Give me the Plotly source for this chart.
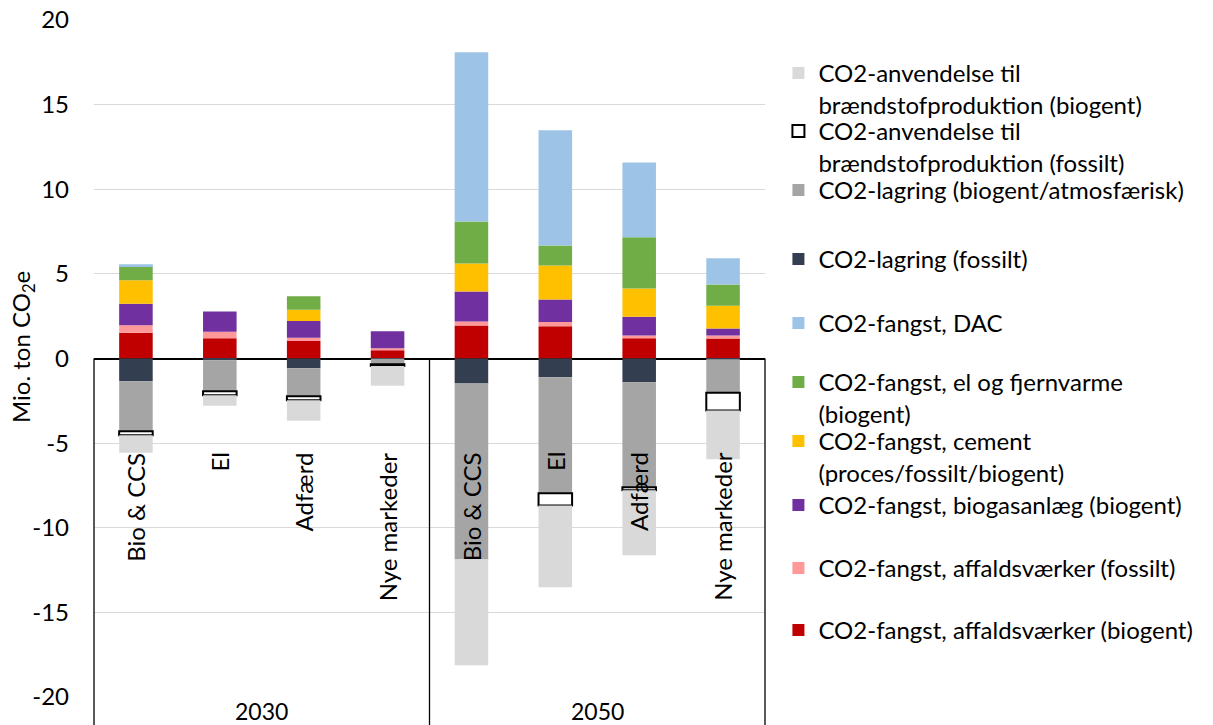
import plotly.graph_objects as go

# Categories: scenario within each year
years = ["2030", "2030", "2030", "2030", "2050", "2050", "2050", "2050"]
scenarios = ["Bio & CCS", "El", "Adfærd", "Nye markeder",
             "Bio & CCS", "El", "Adfærd", "Nye markeder"]

# Captured CO2 (positive) and its destination (negative), Mio. ton CO2e
affald_biogent = [1.52, 1.20, 1.03, 0.49, 1.95, 1.91, 1.20, 1.18]
affald_fossilt = [0.45, 0.38, 0.19, 0.12, 0.24, 0.24, 0.16, 0.18]
biogas = [1.26, 1.20, 0.99, 1.00, 1.77, 1.34, 1.10, 0.41]
cement = [1.39, None, 0.67, None, 1.65, 2.01, 1.68, 1.34]
el_fjernvarme = [0.84, None, 0.80, None, 2.49, 1.18, 3.03, 1.26]
dac = [0.11, None, None, None, 9.99, 6.80, 4.41, 1.56]
lagring_fossilt = [-1.34, -0.10, -0.57, -0.02, -1.48, -1.11, -1.40, -0.05]
lagring_biogent = [-2.96, -1.83, -1.66, -0.32, -10.40, -6.85, -6.21, -1.98]
anvendelse_fossilt = [-0.23, -0.24, -0.23, -0.10, None, -0.73, -0.17, -1.04]
anvendelse_biogent = [-1.04, -0.62, -1.22, -1.17, -6.24, -4.82, -3.84, -2.88]

y_ticks = [-20, -15, -10, -5, 0, 5, 10, 15, 20]
y_ticktext = [str(v) for v in y_ticks]

FONT = "Lato"
FS = 24
W, H = 1213, 725
M_L, M_R, M_T, M_B = 94, 448, 20, 28
PLOT_H = H - M_T - M_B

# Stacking order: first series sits next to the zero line
series = [
    ("CO2-fangst, affaldsværker (biogent)", affald_biogent, "#C00000"),
    ("CO2-fangst, affaldsværker (fossilt)", affald_fossilt, "#FF9999"),
    ("CO2-fangst, biogasanlæg (biogent)", biogas, "#7030A0"),
    ("CO2-fangst, cement<br>(proces/fossilt/biogent)", cement, "#FFC000"),
    ("CO2-fangst, el og fjernvarme<br>(biogent)", el_fjernvarme, "#70AD47"),
    ("CO2-fangst, DAC", dac, "#9DC3E6"),
    ("CO2-lagring (fossilt)", lagring_fossilt, "#333F50"),
    ("CO2-lagring (biogent/atmosfærisk)", lagring_biogent, "#A5A5A5"),
    ("CO2-anvendelse til<br>brændstofproduktion (fossilt)", anvendelse_fossilt, "#FFFFFF"),
    ("CO2-anvendelse til<br>brændstofproduktion (biogent)", anvendelse_biogent, "#D9D9D9"),
]

# Legend entry rows (pixel centre of first text line), listed top to bottom
legend_rows_px = [73, 131, 190, 259, 323, 382, 441, 505, 568, 630]
LEGEND_TEXT_OFFSET = 22

x_idx = list(range(len(scenarios)))

fig = go.Figure()
n_series = len(series)
legend_layouts = {}
for k, (name, vals, color) in enumerate(series):
    outlined = color == "#FFFFFF"
    row = n_series - 1 - k
    lg_key = "legend" if row == 0 else f"legend{row + 1}"
    top_px = legend_rows_px[row] - LEGEND_TEXT_OFFSET
    legend_layouts[lg_key] = dict(
        x=1.02, xanchor="left", y=(H - M_B - top_px) / PLOT_H, yanchor="top",
        valign="top", bgcolor="rgba(0,0,0,0)",
        font=dict(family=FONT, size=FS, color="#000000"),
    )
    fig.add_trace(go.Bar(
        x=x_idx, y=vals, name=name, legend=lg_key,
        marker=dict(color=color,
                    line=dict(color="#000000", width=2 if outlined else 0)),
        width=0.4,
    ))

# Scenario labels under the zero line, rotated
for i, s in enumerate(scenarios):
    fig.add_annotation(x=i, y=-5.42, xref="x", yref="y", text=s, textangle=-90,
                       showarrow=False, yanchor="top", xanchor="center",
                       font=dict(family=FONT, size=FS, color="#000000"))

# Year labels beneath the plot area
group_names = ["2030", "2050"]
for name in group_names:
    members = [i for i, y in enumerate(years) if y == name]
    fig.add_annotation(x=sum(members) / len(members), y=-14 / PLOT_H,
                       xref="x", yref="paper",
                       text=name, showarrow=False, yanchor="middle",
                       font=dict(family=FONT, size=23, color="#000000"))

# Category dividers from the zero line down
n = len(scenarios)
x0, x1 = -0.5, n - 0.5
for b in [0, 4, 8]:
    xp = (b - 0.5 - x0) / (x1 - x0)
    fig.add_shape(type="line", xref="paper", yref="paper",
                  x0=xp, x1=xp, y0=0.5, y1=-0.2,
                  line=dict(color="#000000", width=1.3))

# Axis title
fig.add_annotation(x=-(M_L - 22) / (W - M_L - M_R), y=(H - M_B - 347) / PLOT_H,
                   xref="paper", yref="paper",
                   text="Mio. ton CO<sub>2</sub>e", textangle=-90, showarrow=False,
                   xanchor="center", yanchor="middle",
                   font=dict(family=FONT, size=FS, color="#000000"))

fig.update_layout(
    width=W, height=H,
    margin=dict(l=M_L, r=M_R, t=M_T, b=M_B, autoexpand=False),
    barmode="relative",
    plot_bgcolor="#FFFFFF", paper_bgcolor="#FFFFFF",
    font=dict(family=FONT, size=FS, color="#000000"),
    showlegend=True,
    xaxis=dict(range=[x0, x1], showticklabels=False, showgrid=False,
               zeroline=False, showline=False, ticks=""),
    yaxis=dict(range=[-20, 20], tickvals=y_ticks, ticktext=y_ticktext,
               showgrid=True, gridcolor="#D9D9D9",
               gridwidth=1.3, zeroline=True, zerolinecolor="#000000", zerolinewidth=1.8,
               showline=False, ticks="", ticklabelstandoff=24,
               tickfont=dict(family=FONT, size=FS, color="#000000")),
    **legend_layouts,
)

fig.write_html("out.html")
